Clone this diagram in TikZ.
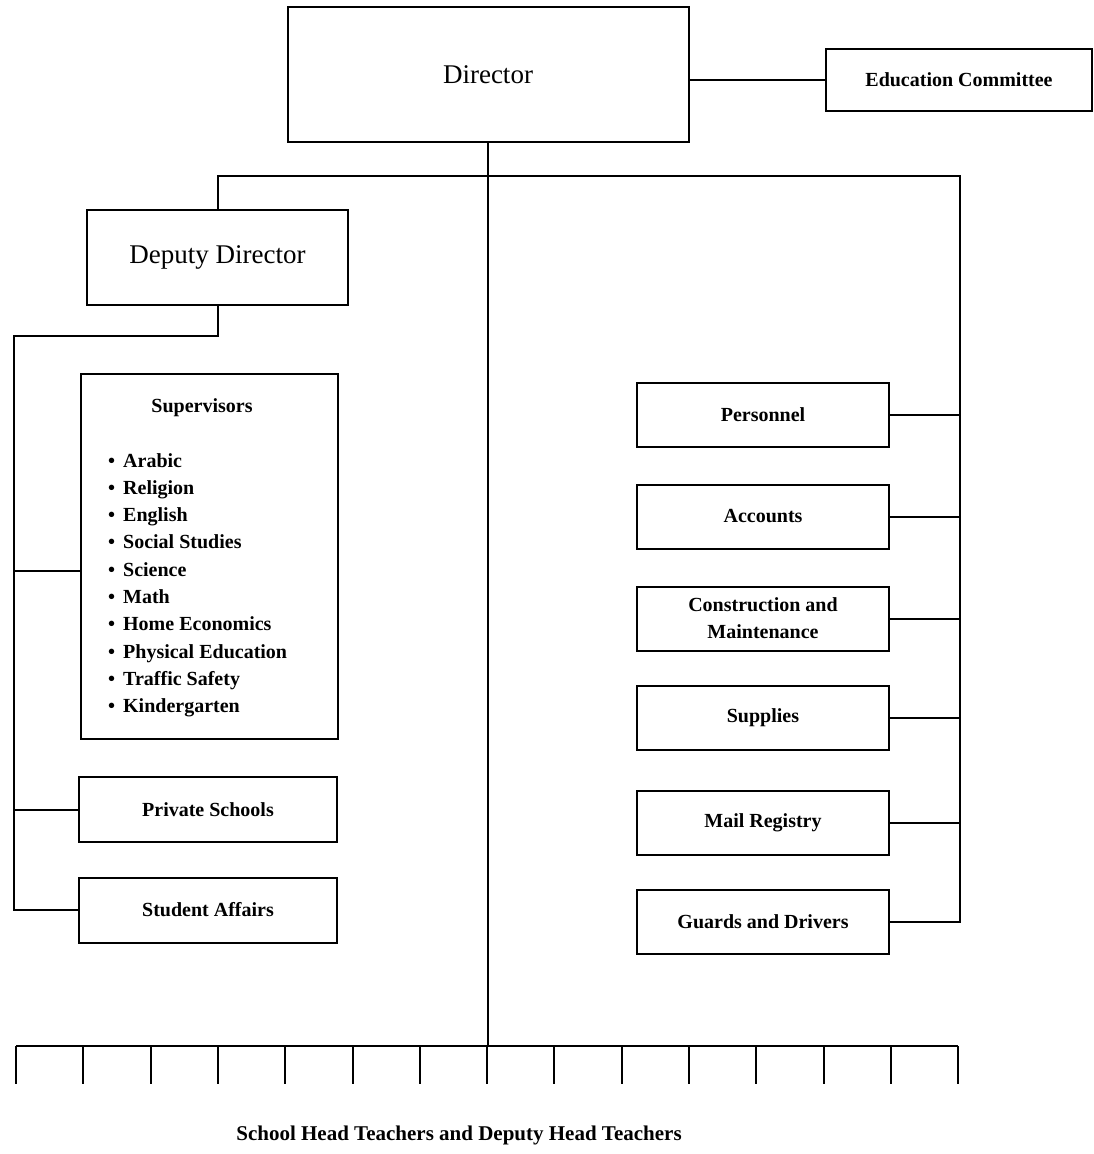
\documentclass[tikz,border=0pt]{standalone}
\usepackage{fontspec}
\setmainfont{Liberation Serif}
\begin{document}
\begin{tikzpicture}[x=1pt, y=-1pt,
    unit/.style={draw, line width=2pt, inner sep=0pt, align=center,
      font=\bfseries\fontsize{20}{27}\selectfont},
    head/.style={unit, font=\fontsize{27}{32}\selectfont},
    side/.style={unit, minimum width=252pt, minimum height=64pt},
    leftbox/.style={unit, minimum width=258pt, minimum height=65pt},
    txt/.style={inner sep=0pt, font=\bfseries\fontsize{20}{27}\selectfont},
    link/.style={line width=2pt}]
  \useasboundingbox (0,0) rectangle (1094,1154);
  \node[head, minimum width=401pt, minimum height=135pt] (dir) at (488,74.5) {Director};
  \node[unit, minimum width=266pt, minimum height=62pt] (edu) at (959,80) {Education Committee};
  \node[head, minimum width=261pt, minimum height=95pt] (dep) at (217.5,257.5) {Deputy Director};
  \node[unit, minimum width=257pt, minimum height=365pt] (sup) at (209.5,556) {};
  \node[txt] (suptitle) at (202,408) {Supervisors};
  \foreach \subj [count=\k from 0] in {Arabic, Religion, English, Social Studies, Science,
      Math, Home Economics, Physical Education, Traffic Safety, Kindergarten}
    \node[txt, anchor=base west] (subj\k) at (108,467+27.3*\k) {\makebox[15pt][l]{\textbullet}\subj};
  \node[leftbox] (priv) at (208,809.5) {Private Schools};
  \node[leftbox] (stud) at (208,910) {Student Affairs};
  \node[side] (pers) at (763,414.5) {Personnel};
  \node[side] (acc) at (763,516.5) {Accounts};
  \node[side] (cons) at (763,618.5) {Construction and\\Maintenance};
  \node[side] (supp) at (763,717.5) {Supplies};
  \node[side] (mail) at (763,822.5) {Mail Registry};
  \node[side] (guard) at (763,921.5) {Guards and Drivers};
  \node[txt, anchor=base, font=\bfseries\fontsize{21}{25}\selectfont] (schools) at (459,1140)
    {School Head Teachers and Deputy Head Teachers};
  \coordinate (rbus) at (960,176);
  \coordinate (lbus) at (14,336);
  \coordinate (bl) at (16,1046);
  \coordinate (br) at (958,1046);
  \draw[link] (dir.east |- edu.west) -- (edu.west);
  \draw[link] (dir.south) -- (dir.south |- bl);
  \draw[link] (dep.north) |- (rbus) -- (rbus |- guard.east) -- (guard.east);
  \foreach \n in {pers,acc,cons,supp,mail}
    \draw[link] (\n.east) -- (\n.east -| rbus);
  \draw[link] (dep.south) |- (lbus) -- (lbus |- stud.west) -- (stud.west);
  \draw[link] ([yshift=-15pt]sup.west) -- ([yshift=-15pt]sup.west -| lbus);
  \draw[link] (priv.west) -- (priv.west -| lbus);
  \draw[link] (bl) -- (br);
  \foreach \i in {0,...,14}
    \draw[link] (16+67.3*\i,1046) -- ++(0,38);
\end{tikzpicture}
\end{document}
